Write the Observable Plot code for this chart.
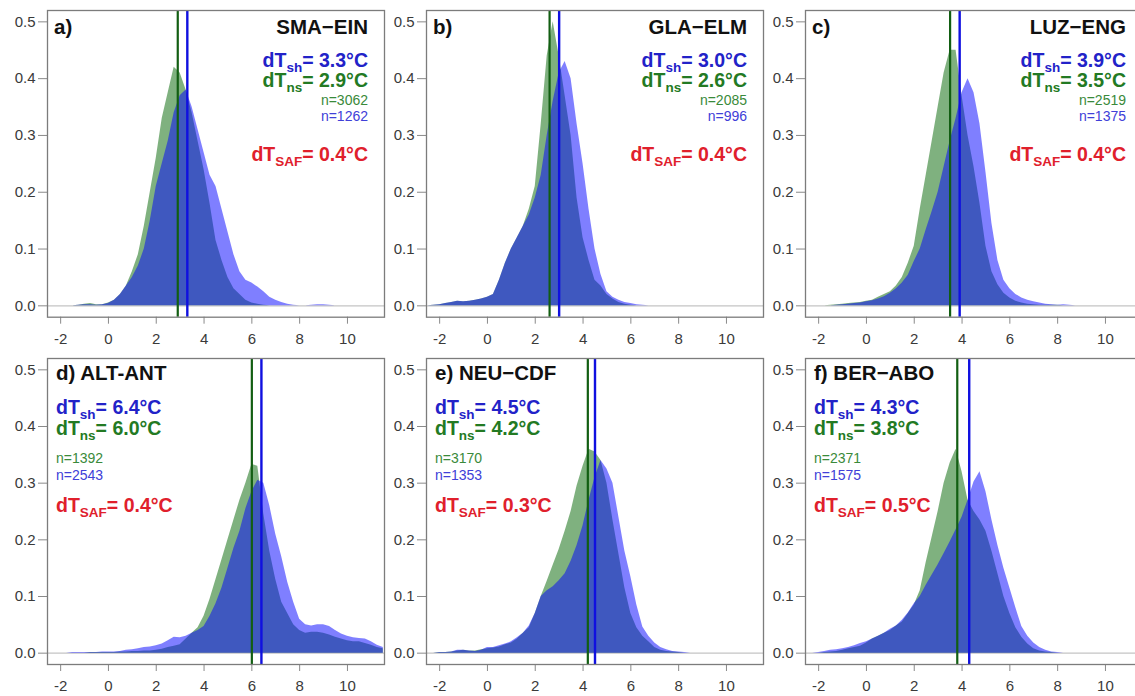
<!DOCTYPE html>
<html><head><meta charset="utf-8">
<script src="https://cdn.jsdelivr.net/npm/d3@7"></script>
<script src="https://cdn.jsdelivr.net/npm/@observablehq/plot@0.6"></script>
<style>
html,body{margin:0;padding:0;background:#fff;overflow:hidden;}
#fig{position:relative;width:1135px;height:696px;overflow:hidden;background:#fff;font-family:"Liberation Sans",Arial,sans-serif;}
.panel{position:absolute;width:379px;height:348px;}
.panel svg{max-width:none !important;width:379px !important;height:348px !important;}
</style></head><body><div id="fig"></div>
<script>
// temperature grid (°C) of the density curves
const temps = [
  -2.5,-2.25,-2,-1.75, -1.5,-1.25,-1,-0.75, -0.5,-0.25,0,0.25, 0.5,0.75,1,1.25,
  1.5,1.75,2,2.25, 2.5,2.75,3,3.25, 3.5,3.75,4,4.25, 4.5,4.75,5,5.25,
  5.5,5.75,6,6.25, 6.5,6.75,7,7.25, 7.5,7.75,8,8.25, 8.5,8.75,9,9.25,
  9.5,9.75,10,10.25, 10.5,10.75,11,11.25, 11.5];

const panelLetters = ["a","b","c","d","e","f"];
const stationPairs = ["SMA−EIN","GLA−ELM","LUZ−ENG","ALT-ANT","NEU−CDF","BER−ABO"];
const dTsh  = [3.3, 3.0, 3.9, 6.4, 4.5, 4.3];
const dTns  = [2.9, 2.6, 3.5, 6.0, 4.2, 3.8];
const dTsaf = [0.4, 0.4, 0.4, 0.4, 0.3, 0.5];
const nNs   = [3062, 2085, 2519, 1392, 3170, 2371];
const nSh   = [1262, 996, 1375, 2543, 1353, 1575];
const xTicks = [-2, 0, 2, 4, 6, 8, 10];
const yTicks = [0, 0.1, 0.2, 0.3, 0.4, 0.5];

// densities, no snow (ns, green) and snow (sh, blue)
const nsA = [0,0,0,0, 0,0.001,0.003,0.004, 0.002,0.002,0.005,0.01, 0.02,0.035,0.06,0.09,
  0.14,0.2,0.26,0.33, 0.375,0.42,0.41,0.38, 0.34,0.29,0.24,0.18, 0.115,0.08,0.05,0.03,
  0.02,0.01,0.005,0.003, 0.001,0,0,0, 0,0,0,0, 0,0,0,0, 0,0,0,0, 0,0,0,0, 0];
const shA = [0,0,0,0, 0,0.001,0.002,0.002, 0.001,0.002,0.004,0.01, 0.02,0.035,0.05,0.07,
  0.1,0.15,0.21,0.25, 0.29,0.34,0.37,0.38, 0.35,0.31,0.27,0.23, 0.21,0.17,0.13,0.09,
  0.06,0.045,0.04,0.033, 0.025,0.015,0.01,0.006, 0.003,0.001,0,0, 0.001,0.002,0.002,0.001, 0,0,0,0, 0,0,0,0, 0];
const nsB = [0,0.001,0.002,0.004, 0.006,0.008,0.007,0.008, 0.01,0.012,0.015,0.02, 0.045,0.075,0.1,0.12,
  0.14,0.17,0.21,0.32, 0.44,0.5,0.44,0.37, 0.3,0.19,0.12,0.08, 0.045,0.035,0.02,0.012,
  0.006,0.003,0.001,0, 0,0,0,0, 0,0,0,0, 0,0,0,0, 0,0,0,0, 0,0,0,0, 0];
const shB = [0,0.001,0.002,0.004, 0.006,0.008,0.007,0.008, 0.01,0.012,0.015,0.02, 0.045,0.075,0.1,0.12,
  0.14,0.16,0.19,0.23, 0.3,0.36,0.41,0.43, 0.4,0.32,0.25,0.17, 0.1,0.055,0.025,0.015,
  0.01,0.006,0.004,0.002, 0.001,0,0,0, 0,0,0,0, 0,0,0,0, 0,0,0,0, 0,0,0,0, 0];
const nsC = [0,0,0,0, 0.001,0.002,0.003,0.004, 0.005,0.006,0.008,0.01, 0.015,0.02,0.025,0.035,
  0.05,0.075,0.105,0.17, 0.23,0.29,0.35,0.41, 0.45,0.45,0.37,0.3, 0.245,0.18,0.105,0.06,
  0.037,0.022,0.014,0.008, 0.005,0.003,0.002,0.001, 0.001,0.001,0.001,0, 0,0,0,0, 0,0,0,0, 0,0,0,0, 0];
const shC = [0,0,0,0, 0,0.001,0.002,0.003, 0.004,0.005,0.007,0.009, 0.012,0.016,0.022,0.03,
  0.04,0.054,0.078,0.1, 0.134,0.166,0.2,0.245, 0.29,0.33,0.375,0.4, 0.375,0.32,0.235,0.145,
  0.08,0.045,0.03,0.02, 0.014,0.01,0.007,0.005, 0.003,0.002,0.001,0.002, 0.001,0,0,0, 0,0,0,0, 0,0,0,0, 0];
const nsD = [0,0,0,0, 0,0,0,0.001, 0.001,0.001,0.001,0.001, 0.002,0.002,0.003,0.003,
  0.004,0.004,0.005,0.007, 0.01,0.012,0.015,0.025, 0.035,0.045,0.065,0.095, 0.13,0.165,0.2,0.235,
  0.27,0.3,0.333,0.33, 0.245,0.18,0.13,0.09, 0.07,0.05,0.04,0.035, 0.037,0.037,0.035,0.032,
  0.028,0.025,0.022,0.02, 0.02,0.017,0.014,0.01, 0.008];
const shD = [0,0,0,0, 0.001,0.001,0.001,0.001, 0.001,0.002,0.002,0.002, 0.003,0.005,0.006,0.008,
  0.01,0.011,0.013,0.016, 0.022,0.028,0.027,0.03, 0.035,0.04,0.047,0.065, 0.087,0.115,0.15,0.185,
  0.215,0.255,0.285,0.305, 0.3,0.26,0.21,0.17, 0.125,0.09,0.06,0.05, 0.048,0.05,0.05,0.047,
  0.04,0.034,0.03,0.027, 0.026,0.025,0.02,0.014, 0.01];
const nsE = [0,0,0.001,0.001, 0.002,0.004,0.005,0.004, 0.004,0.006,0.008,0.009, 0.011,0.015,0.018,0.025,
  0.035,0.045,0.07,0.1, 0.127,0.155,0.183,0.215, 0.25,0.295,0.33,0.36, 0.355,0.34,0.3,0.235,
  0.175,0.115,0.07,0.045, 0.03,0.02,0.01,0.005, 0.003,0.002,0.001,0, 0,0,0,0, 0,0,0,0, 0,0,0,0, 0];
const shE = [0,0,0.001,0.001, 0.002,0.005,0.005,0.004, 0.003,0.005,0.01,0.01, 0.013,0.016,0.02,0.027,
  0.035,0.048,0.07,0.1, 0.11,0.117,0.128,0.14, 0.162,0.19,0.225,0.27, 0.31,0.34,0.325,0.3,
  0.24,0.18,0.135,0.085, 0.046,0.03,0.018,0.01, 0.006,0.003,0.002,0.001, 0,0,0,0, 0,0,0,0, 0,0,0,0, 0];
const nsF = [0,0,0,0.001, 0.002,0.003,0.005,0.008, 0.01,0.012,0.018,0.025, 0.03,0.035,0.04,0.048,
  0.055,0.07,0.085,0.11, 0.16,0.205,0.25,0.3, 0.335,0.36,0.32,0.27, 0.25,0.235,0.215,0.18,
  0.14,0.1,0.07,0.045, 0.028,0.016,0.008,0.004, 0.002,0.001,0,0, 0,0,0,0, 0,0,0,0, 0,0,0,0, 0];
const shF = [0,0,0.001,0.003, 0.005,0.006,0.008,0.01, 0.013,0.017,0.02,0.025, 0.03,0.035,0.042,0.048,
  0.058,0.071,0.087,0.1, 0.12,0.138,0.156,0.176, 0.196,0.218,0.24,0.27, 0.302,0.32,0.285,0.235,
  0.19,0.15,0.115,0.08, 0.047,0.03,0.018,0.01, 0.005,0.002,0.001,0, 0,0,0,0, 0,0,0,0, 0,0,0,0, 0];

const nsSeries = [nsA, nsB, nsC, nsD, nsE, nsF];
const shSeries = [shA, shB, shC, shD, shE, shF];

const COL = {
  nsFill: "rgb(0,100,0)", shFill: "rgb(0,0,255)",
  nsLine: "#125e12", shLine: "#1010e0",
  nsText: "#237a23", shText: "#2222c8", safText: "#e0202c",
  nNs: "#3a8a3a", nSh: "#4040d8"
};
const FONT = '"Liberation Sans", Arial, Helvetica, sans-serif';
const fig = document.getElementById("fig");

panelLetters.forEach((p, i) => {
  const row = i < 3 ? 0 : 1, col = i % 3;
  const top = row === 0;
  const ns = temps.map((t, j) => ({t, d: nsSeries[i][j]}));
  const sh = temps.map((t, j) => ({t, d: shSeries[i][j]}));
  const anchor = top ? "top-right" : "top-left";
  const tx = top ? -16.5 : 8.5;
  const ta = top ? "end" : "start";
  const pos = top
    ? {title: 17, sh: 50.5, ns: 70.5, n1: 90, n2: 106.5, saf: 144}
    : {title: 15.3, sh: 49.3, ns: 70, n1: 100, n2: 117.5, saf: 147};
  const txt = (s, dy, opts) => Plot.text([s], {
    text: d => d, frameAnchor: anchor, dx: tx, dy, lineAnchor: "middle",
    textAnchor: ta, ...opts});
  const labelMarks = [];
  if (top) {
    labelMarks.push(Plot.text([`${p})`], {text: d => d, frameAnchor: "top-left", dx: 6.5, dy: pos.title,
      lineAnchor: "middle", textAnchor: "start", fontSize: 20.5, fontWeight: "bold", fill: "#111"}));
    labelMarks.push(txt(stationPairs[i], pos.title, {fontSize: 20.5, fontWeight: "bold", fill: "#111"}));
  } else {
    labelMarks.push(txt(`${p}) ${stationPairs[i]}`, pos.title, {fontSize: 20.5, fontWeight: "bold", fill: "#111"}));
  }
  labelMarks.push(txt(`dT_sh= ${dTsh[i].toFixed(1)}°C`, pos.sh, {fontSize: 19.5, fontWeight: "bold", fill: COL.shText}));
  labelMarks.push(txt(`dT_ns= ${dTns[i].toFixed(1)}°C`, pos.ns, {fontSize: 19.5, fontWeight: "bold", fill: COL.nsText}));
  labelMarks.push(txt(`n=${nNs[i]}`, pos.n1, {fontSize: 14, fill: COL.nNs}));
  labelMarks.push(txt(`n=${nSh[i]}`, pos.n2, {fontSize: 14, fill: COL.nSh}));
  labelMarks.push(txt(`dT_SAF= ${dTsaf[i].toFixed(1)}°C`, pos.saf, {fontSize: 19.5, fontWeight: "bold", fill: COL.safText}));

  const chart = Plot.plot({
    width: 379, height: 348,
    marginLeft: 42, marginRight: 0, marginTop: 10, marginBottom: top ? 31.3 : 32,
    x: {domain: [-2.55, 11.55], label: null},
    y: {domain: [-0.02, 0.52], label: null},
    style: {fontFamily: FONT, fontSize: "15px", color: "#3a3a3a", background: "transparent", overflow: "visible"},
    marks: [
      Plot.axisX({ticks: xTicks, tickSize: 7, tickPadding: 9, tickFormat: d => String(d),
        fontSize: 15, stroke: "#8a8a8a", fill: "#3a3a3a", label: null}),
      Plot.axisY({ticks: yTicks, tickSize: 9, tickPadding: 3, tickFormat: d3.format(".1f"),
        fontSize: 15, stroke: "#8a8a8a", fill: "#3a3a3a", label: null}),
      Plot.ruleY([0], {stroke: "#c4c4c4", strokeWidth: 1.2}),
      Plot.areaY(ns, {x: "t", y: "d", fill: COL.nsFill, fillOpacity: 0.5}),
      Plot.areaY(sh, {x: "t", y: "d", fill: COL.shFill, fillOpacity: 0.5}),
      Plot.ruleX([dTns[i]], {stroke: COL.nsLine, strokeWidth: 2.2}),
      Plot.ruleX([dTsh[i]], {stroke: COL.shLine, strokeWidth: 2.4}),
      Plot.frame({stroke: "#7c7c7c", strokeWidth: 1.3}),
      ...labelMarks
    ]
  });
  const svg = chart.tagName.toLowerCase() === "svg" ? chart : chart.querySelector("svg");
  // subscripts
  const NS = "http://www.w3.org/2000/svg";
  svg.querySelectorAll("text").forEach(t => {
    const m = t.textContent.match(/^(.*?)_([A-Za-z]+)(.*)$/);
    if (!m) return;
    t.textContent = "";
    const a = document.createElementNS(NS, "tspan"); a.textContent = m[1];
    const b = document.createElementNS(NS, "tspan"); b.textContent = m[2];
    b.setAttribute("font-size", 13.5); b.setAttribute("dy", 5);
    const c = document.createElementNS(NS, "tspan"); c.textContent = m[3]; c.setAttribute("dy", -5);
    t.append(a, b, c);
  });
  const div = document.createElement("div");
  div.className = "panel";
  div.style.left = (4.5 + col * 379.2) + "px";
  div.style.top = (row * 348) + "px";
  div.appendChild(chart);
  fig.appendChild(div);
});
</script></body></html>
